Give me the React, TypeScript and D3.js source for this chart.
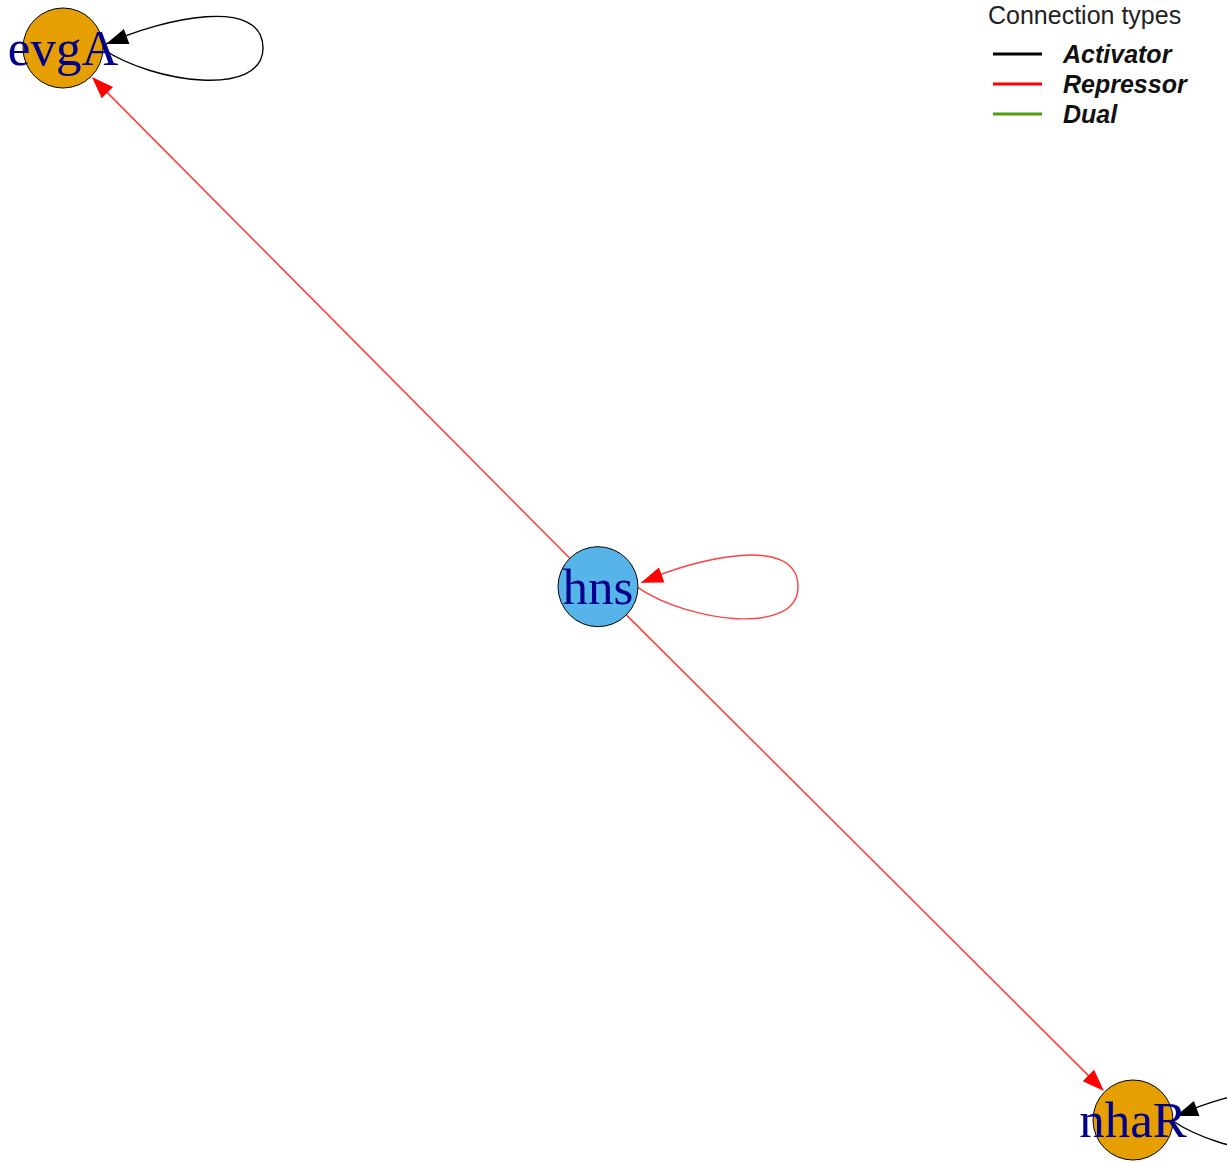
import React from "react";
import * as d3 from "d3";

const nodeNames = ["evgA", "hns", "nhaR"];
const nodeX = [-1, 0, 1];
const nodeY = [1, -0.005, -1];
const nodeKind = ["target", "regulator", "target"];

const edgeFrom = ["hns", "hns", "evgA", "hns", "nhaR"];
const edgeTo = ["evgA", "nhaR", "evgA", "hns", "nhaR"];
const edgeType = ["Repressor", "Repressor", "Activator", "Repressor", "Activator"];

const legendTypes = ["Activator", "Repressor", "Dual"];
const legendColors = ["#000000", "#FF0000", "#4E9E12"];

const W = 1227;
const H = 1163;
const R = 40;

export default function App() {
  const x = d3.scaleLinear().domain([-1, 1]).range([63, 1133]);
  const y = d3.scaleLinear().domain([-1, 1]).range([1120, 48]);
  const color = d3.scaleOrdinal<string, string>().domain(legendTypes).range(legendColors);
  const fill = d3.scaleOrdinal<string, string>().domain(["target", "regulator"]).range(["#E69F00", "#56B4E9"]);

  const pos = (name: string) => {
    const i = nodeNames.indexOf(name);
    return [x(nodeX[i]), y(nodeY[i])];
  };

  const arrowHead = (tx: number, ty: number, ux: number, uy: number, L = 22, hw = 8) => {
    const bx = tx - ux * L, by = ty - uy * L;
    const px = -uy, py = ux;
    return `M${tx},${ty}L${bx + px * hw},${by + py * hw}L${bx - px * hw},${by - py * hw}Z`;
  };

  const edges = edgeFrom.map((f, i) => {
    const t = edgeTo[i];
    const c = color(edgeType[i]);
    const [sx, sy] = pos(f);
    const [tx, ty] = pos(t);
    const isRed = edgeType[i] === "Repressor";
    const op = isRed ? 0.75 : 1;
    if (f === t) {
      const cx = sx, cy = sy;
      const p = d3.path();
      p.moveTo(cx + R, cy + 1);
      p.bezierCurveTo(cx + R + 50, cy + 35, cx + 200, cy + 50, cx + 200, cy);
      p.bezierCurveTo(cx + 200, cy - 52, cx + R + 60, cy - 30, cx + R + 3, cy - 4);
      const tipX = cx + R + 3, tipY = cy - 4;
      const dx = -30, dy = 11;
      const n = Math.hypot(dx, dy);
      return (
        <g key={i}>
          <path d={p.toString()} fill="none" stroke={c} strokeWidth={1.4} strokeOpacity={op} />
          <path d={arrowHead(tipX, tipY, dx / n, dy / n)} fill={c} />
        </g>
      );
    }
    const dx = tx - sx, dy = ty - sy;
    const n = Math.hypot(dx, dy);
    const ux = dx / n, uy = dy / n;
    const x1 = sx + ux * R, y1 = sy + uy * R;
    const x2 = tx - ux * (R + 1), y2 = ty - uy * (R + 1);
    return (
      <g key={i}>
        <line x1={x1} y1={y1} x2={x2 - ux * 18} y2={y2 - uy * 18} stroke={c} strokeWidth={1.6} strokeOpacity={op} />
        <path d={arrowHead(x2, y2, ux, uy)} fill={c} />
      </g>
    );
  });

  return (
    <svg width={W} height={H} style={{ position: "absolute", left: 0, top: 0, background: "#fff" }}>
      <rect width={W} height={H} fill="#fff" />
      {edges}
      {nodeNames.map((nm, i) => (
        <g key={nm}>
          <circle cx={x(nodeX[i])} cy={y(nodeY[i])} r={R} fill={fill(nodeKind[i])} stroke="#000" strokeWidth={1} />
          <text x={x(nodeX[i])} y={y(nodeY[i]) + 17} textAnchor="middle" fontFamily="'Liberation Serif', 'Times New Roman', serif" fontSize={51} fill="#00008B">
            {nm}
          </text>
        </g>
      ))}
      <g fontFamily="'Liberation Sans', Arial, sans-serif">
        <text x={988} y={24} fontSize={25} fill="#222">Connection types</text>
        {legendTypes.map((t, i) => (
          <g key={t}>
            <line x1={993} x2={1042} y1={54 + i * 30} y2={54 + i * 30} stroke={legendColors[i]} strokeWidth={3.2} />
            <text x={1063} y={63 + i * 30} fontSize={25} fontWeight="bold" fontStyle="italic" fill="#111">{t}</text>
          </g>
        ))}
      </g>
    </svg>
  );
}
